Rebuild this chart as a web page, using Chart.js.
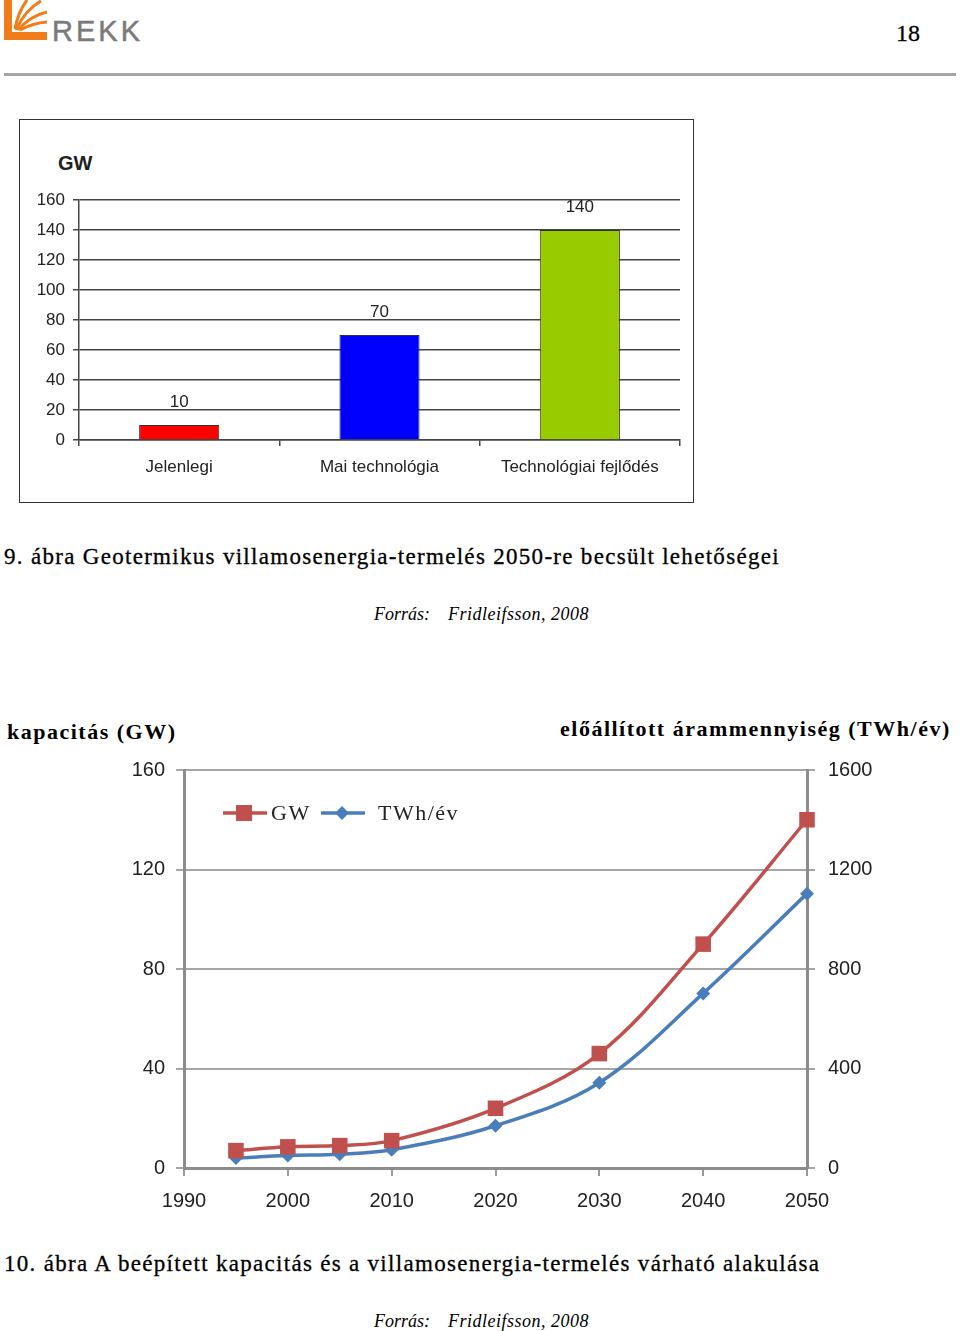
<!DOCTYPE html>
<html>
<head>
<meta charset="utf-8">
<script src="https://cdn.jsdelivr.net/npm/chart.js@4.4.0/dist/chart.umd.min.js"></script>
<style>
  body {
    margin: 0;
    width: 960px;
    height: 1331px;
    position: relative;
    background: #fff;
    overflow: hidden;
    font-family: "Liberation Serif", serif;
    color: #000;
  }
  .abs { position: absolute; white-space: nowrap; }
  .rule { left: 4px; top: 73px; width: 952px; height: 3px; background: #a6a6a6; }
  .pageNo { left: 896px; top: 20px; font-size: 24px; -webkit-text-stroke: 0.3px #000; }
  .rekk { left: 52px; top: 15px; font-family: "Liberation Sans", sans-serif; font-size: 29px; color: #7a7a7a; letter-spacing: 3px; -webkit-text-stroke: 0.5px #7a7a7a; }
  .box { left: 19px; top: 119px; width: 673px; height: 382px; border: 1px solid #333; }
  .box canvas { position: absolute; left: 0; top: 0; }
  .gwTitle { left: 38px; top: 32px; font-family: "Liberation Sans", sans-serif; font-weight: bold; font-size: 20px; color: #222; }
  .caption { left: 4px; font-size: 23px; letter-spacing: 1.3px; -webkit-text-stroke: 0.3px #000; }
  .source { font-size: 18px; font-style: italic; }
  .axTitle { font-weight: bold; font-size: 22px; letter-spacing: 1.5px; }
  #lineChart { position: absolute; left: 0; top: 745px; }
</style>
</head>
<body>

<svg class="abs" style="left:0;top:0" width="50" height="44">
  <path d="M4,0 L12,0 L12,32 L47,32 L47,40 L4,40 Z" fill="#f07c1a"/>
  <g fill="none" stroke="#f07c1a" stroke-width="3">
    <path d="M15,29 Q18,12 27,0"/>
    <path d="M16,30 Q25,10 41,1"/>
    <path d="M18,30 Q30,16 47,12"/>
    <path d="M20,30 Q33,23 47,22"/>
  </g>
</svg>
<div class="abs rekk">REKK</div>
<div class="abs pageNo">18</div>
<div class="abs rule"></div>

<div class="abs box">
  <div class="abs gwTitle">GW</div>
  <canvas id="barChart" width="673" height="382"></canvas>
</div>

<div class="abs caption" style="top:544px">9. ábra Geotermikus villamosenergia-termelés 2050-re becsült lehetőségei</div>
<div class="abs source" style="left:374px;top:604px">Forrás:</div>
<div class="abs source" style="left:448px;top:604px;letter-spacing:0.5px">Fridleifsson, 2008</div>

<div class="abs axTitle" style="left:7px;top:719px">kapacitás (GW)</div>
<div class="abs axTitle" style="left:560px;top:716px">előállított árammennyiség (TWh/év)</div>
<canvas id="lineChart" width="960" height="475"></canvas>

<div class="abs caption" style="top:1251px">10. ábra A beépített kapacitás és a villamosenergia-termelés várható alakulása</div>
<div class="abs source" style="left:374px;top:1311px">Forrás:</div>
<div class="abs source" style="left:448px;top:1311px;letter-spacing:0.5px">Fridleifsson, 2008</div>

<script>
// 9. ábra
let barLabels = ["Jelenlegi", "Mai technológia", "Technológiai fejlődés"];
let barValues = [10, 70, 140];
let barColors = ["#ff0000", "#0000ff", "#99cc00"];

// 10. ábra
let years = [1995, 2000, 2005, 2010, 2020, 2030, 2040, 2050];
let gwValues = [7, 8.5, 9, 11, 24, 46, 90, 140];
let twhValues = [40, 50, 55, 73, 170, 343, 702, 1103];

let sansFont = "Liberation Sans";

// value labels above the bars
let barValueLabels = {
    id: "barValueLabels",
    afterDatasetsDraw(chart) {
        let c = chart.ctx;
        c.save();
        c.font = "17px " + sansFont;
        c.fillStyle = "#222";
        c.textAlign = "center";
        c.textBaseline = "middle";
        chart.getDatasetMeta(0).data.forEach((bar, i) => {
            c.fillText(barValues[i], bar.x, bar.y - 23);
        });
        c.restore();
    }
};

new Chart(document.getElementById("barChart"), {
    type: "bar",
    data: {
        labels: barLabels,
        datasets: [
            {
                data: barValues,
                backgroundColor: barColors,
                borderColor: "#333",
                borderWidth: 1,
                categoryPercentage: 1,
                barPercentage: 0.4,
            },
        ],
    },
    options: {
        responsive: false,
        animation: false,
        layout: { padding: { top: 80, right: 13, left: 0, bottom: 0 } },
        plugins: { legend: { display: false }, tooltip: { enabled: false } },
        scales: {
            x: {
                grid: { offset: true, drawOnChartArea: false, tickLength: 6, color: "#444", lineWidth: 1.5 },
                border: { color: "#444", width: 1.5 },
                ticks: { color: "#222", padding: 11, font: { family: sansFont, size: 17 } },
                afterFit: (s) => { s.height = 62; },
            },
            y: {
                min: 0,
                max: 160,
                ticks: { stepSize: 20, color: "#222", padding: 8, font: { family: sansFont, size: 17 } },
                grid: { color: "#444", lineWidth: 1.5, tickLength: 6 },
                border: { color: "#444", width: 1.5 },
                afterFit: (s) => { s.width = 59; },
            },
        },
    },
    plugins: [barValueLabels],
});

// legend drawn inside the plot: line + marker + text
let lineLegend = {
    id: "lineLegend",
    afterDraw(chart) {
        let c = chart.ctx;
        let y = chart.chartArea.top + 43;
        let items = [
            { x: chart.chartArea.left + 39, textX: 48, set: chart.data.datasets[0] },
            { x: chart.chartArea.left + 137, textX: 57, set: chart.data.datasets[1] },
        ];
        c.save();
        items.forEach((it) => {
            c.strokeStyle = it.set.borderColor;
            c.fillStyle = it.set.borderColor;
            c.lineWidth = 3.5;
            c.beginPath();
            c.moveTo(it.x, y);
            c.lineTo(it.x + 44, y);
            c.stroke();
            let mx = it.x + 21;
            if (it.set.pointStyle == "rect") {
                c.fillRect(mx - 8, y - 8, 16, 16);
            } else {
                c.beginPath();
                c.moveTo(mx, y - 7);
                c.lineTo(mx + 7, y);
                c.lineTo(mx, y + 7);
                c.lineTo(mx - 7, y);
                c.closePath();
                c.fill();
            }
            c.fillStyle = "#222";
            c.font = "22px Liberation Serif";
            c.letterSpacing = "1.5px";
            c.textBaseline = "middle";
            c.textAlign = "left";
            c.fillText(it.set.label, it.x + it.textX, y + 1);
        });
        c.restore();
    }
};

let tickFont = { family: sansFont, size: 20 };

new Chart(document.getElementById("lineChart"), {
    type: "line",
    data: {
        datasets: [
            {
                label: "GW",
                data: years.map((yr, i) => ({ x: yr, y: gwValues[i] })),
                yAxisID: "y",
                borderColor: "#c0504d",
                backgroundColor: "#c0504d",
                borderWidth: 3.5,
                tension: 0.35,
                pointStyle: "rect",
                pointRadius: 11,
                pointBorderWidth: 0,
                clip: false,
            },
            {
                label: "TWh/év",
                data: years.map((yr, i) => ({ x: yr, y: twhValues[i] })),
                yAxisID: "y1",
                borderColor: "#4a7ebb",
                backgroundColor: "#4a7ebb",
                borderWidth: 3.5,
                tension: 0.35,
                pointStyle: "rectRot",
                pointRadius: 7,
                pointBorderWidth: 0,
                clip: false,
            },
        ],
    },
    options: {
        responsive: false,
        animation: false,
        layout: { padding: { top: 19, left: 0, right: 0, bottom: 0 } },
        plugins: { legend: { display: false }, tooltip: { enabled: false } },
        scales: {
            x: {
                type: "linear",
                min: 1990,
                max: 2050,
                ticks: { stepSize: 10, color: "#222", padding: 13, font: tickFont, callback: (v) => String(v) },
                grid: { drawOnChartArea: false, tickLength: 8, color: "#999", lineWidth: 2 },
                border: { color: "#8c8c8c", width: 3 },
                afterFit: (s) => { s.height = 52; },
            },
            y: {
                position: "left",
                min: 0,
                max: 160,
                ticks: { stepSize: 40, color: "#222", padding: 11, font: tickFont, callback: (v) => String(v) },
                grid: { color: "#a6a6a6", lineWidth: 2, tickLength: 8 },
                border: { color: "#8c8c8c", width: 3 },
                afterFit: (s) => { s.width = 184; },
            },
            y1: {
                position: "right",
                min: 0,
                max: 1600,
                ticks: { stepSize: 400, color: "#222", padding: 13, font: tickFont, callback: (v) => String(v) },
                grid: { drawOnChartArea: false, color: "#a6a6a6", lineWidth: 2, tickLength: 8 },
                border: { color: "#8c8c8c", width: 3 },
                afterFit: (s) => { s.width = 153; },
            },
        },
    },
    plugins: [lineLegend],
});
</script>
</body>
</html>
